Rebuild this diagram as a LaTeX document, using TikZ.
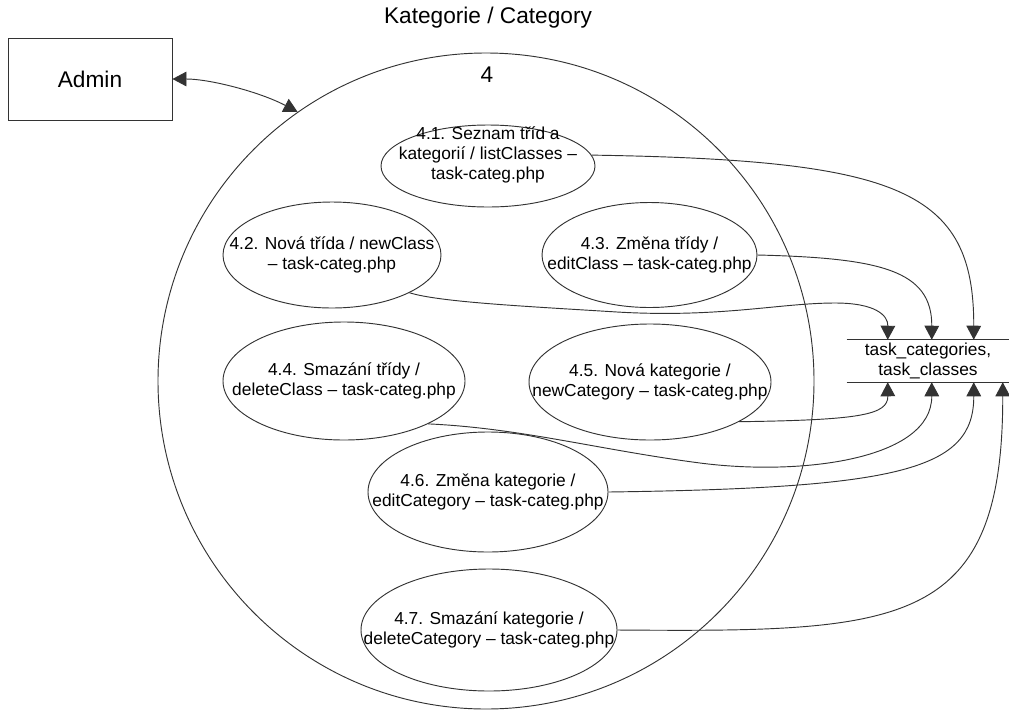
\documentclass[tikz,border=0pt]{standalone}
\usepackage{fontspec}
\setmainfont{Liberation Sans}
\usetikzlibrary{arrows.meta,calc,shapes.geometric}
\begin{document}
\begin{tikzpicture}[x=0.75pt,y=-0.75pt,
  stroke/.style={draw=black!80,line width=0.7pt},
  proc/.style={ellipse,stroke,inner sep=0pt},
  ptext/.style={font=\fontsize{13pt}{15pt}\selectfont,align=center,inner sep=0pt},
  bigtext/.style={font=\fontsize{17pt}{20pt}\selectfont},
  flow/.style={stroke,-{Triangle[width=11pt,length=10.5pt]}}]
\useasboundingbox (0,0) rectangle (1009,711);

% heading, external entity and the process 4
\node[bigtext] (title) at (488,18) {Kategorie / Category};
\node[rectangle,stroke,minimum width=123pt,minimum height=61.5pt,inner sep=0pt,bigtext] (admin) at (90,79) {Admin};
\node[circle,stroke,minimum size=492pt,inner sep=0pt] (p4) at (486,381) {};
\node[bigtext] (p4num) at (487,75) {4};

% sub-processes
\node[proc,minimum width=160.5pt,minimum height=61.5pt] (e41) at (488,166) {};
\node[ptext] (t41) at (488,155) {4.1. Seznam tříd a\\kategorií / listClasses –\\task-categ.php};

\node[proc,minimum width=163.5pt,minimum height=79.5pt] (e42) at (332,255) {};
\node[ptext] (t42) at (e42) {4.2. Nová třída / newClass\\– task-categ.php};

\node[proc,minimum width=161.25pt,minimum height=78.75pt] (e43) at (649.5,255) {};
\node[ptext] (t43) at (e43) {4.3. Změna třídy /\\editClass – task-categ.php};

\node[proc,minimum width=181.5pt,minimum height=88.5pt] (e44) at (344,381) {};
\node[ptext] (t44) at (e44) {4.4. Smazání třídy /\\deleteClass – task-categ.php};

\node[proc,minimum width=181.5pt,minimum height=87pt] (e45) at (650,382) {};
\node[ptext] (t45) at (e45) {4.5. Nová kategorie /\\newCategory – task-categ.php};

\node[proc,minimum width=180pt,minimum height=90pt] (e46) at (488,492) {};
\node[ptext] (t46) at (e46) {4.6. Změna kategorie /\\editCategory – task-categ.php};

\node[proc,minimum width=192pt,minimum height=91.5pt] (e47) at (489,630) {};
\node[ptext] (t47) at (e47) {4.7. Smazání kategorie /\\deleteCategory – task-categ.php};

% data store
\node[ptext,minimum width=121.5pt,minimum height=31.5pt] (ds) at (928,361) {task\_categories,\\task\_classes};
\draw[stroke] (ds.north west) -- (ds.north east);
\draw[stroke] (ds.south west) -- (ds.south east);

\coordinate (in42) at ($(ds.north west)+(41,0)$);
\coordinate (in43) at ($(ds.north west)+(85,0)$);
\coordinate (in41) at ($(ds.north west)+(127,0)$);
\coordinate (in45) at ($(ds.south west)+(41,0)$);
\coordinate (in44) at ($(ds.south west)+(85,0)$);
\coordinate (in46) at ($(ds.south west)+(127,0)$);
\coordinate (in47) at ($(ds.south west)+(156,0)$);

% data flows
\draw[stroke,{Triangle[width=11pt,length=10.5pt]}-{Triangle[width=11pt,length=10.5pt]}]
  (admin.east) .. controls (210,79) and (260,92) .. (p4.125.5);
\draw[flow] (e41.6) .. controls (900,160) and (974,190) .. (in41);
\draw[flow] (e43.east) .. controls (880,258) and (932,270) .. (in43);
\draw[flow] (e42.-26) .. controls (440,302) and (520,306) .. (617,312)
  .. controls (720,318) and (780,303) .. (835,303)
  .. controls (875,303) and (888,315) .. (in42);
\draw[flow] (e45.-24) .. controls (860,420) and (888,415) .. (in45);
\draw[flow] (e44.-27) .. controls (520,428) and (600,450) .. (700,463)
  .. controls (800,476) and (932,460) .. (in44);
\draw[flow] (e46.east) .. controls (900,488) and (974,470) .. (in46);
\draw[flow] (e47.east) .. controls (900,632) and (1003,630) .. (in47);
\end{tikzpicture}
\end{document}
